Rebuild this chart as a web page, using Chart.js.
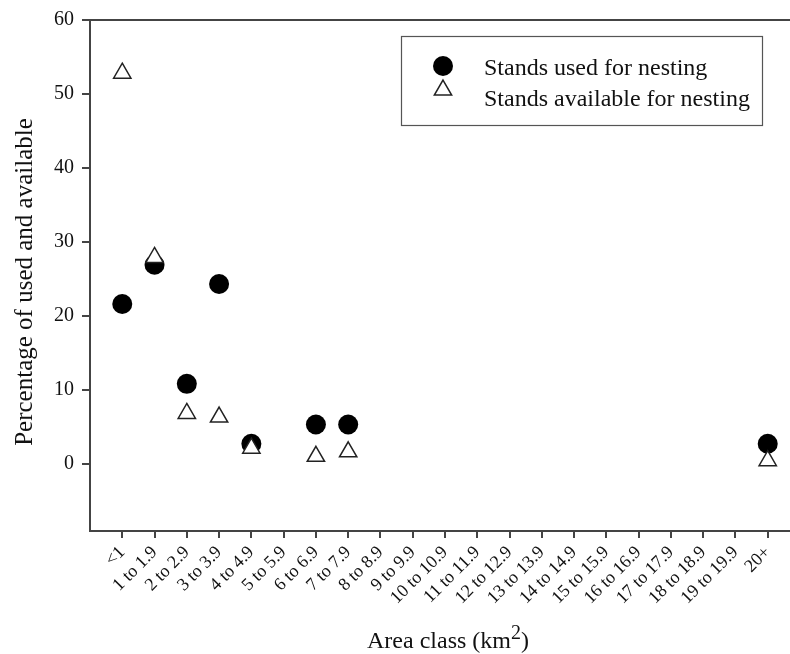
<!DOCTYPE html>
<html>
<head>
<meta charset="utf-8">
<script src="https://cdn.jsdelivr.net/npm/chart.js@4/dist/chart.umd.min.js"></script>
<style>
  html, body { margin: 0; padding: 0; background: #fff; overflow: hidden; }
  #wrap { position: relative; width: 815px; height: 654px; }
</style>
</head>
<body>
<div id="wrap"><canvas id="chart"></canvas></div>
<script>
  // area classes (km2)
  const clases = ['<1', '1 to 1.9', '2 to 2.9', '3 to 3.9', '4 to 4.9', '5 to 5.9', '6 to 6.9',
      '7 to 7.9', '8 to 8.9', '9 to 9.9', '10 to 10.9', '11 to 11.9', '12 to 12.9', '13 to 13.9',
      '14 to 14.9', '15 to 15.9', '16 to 16.9', '17 to 17.9', '18 to 18.9', '19 to 19.9', '20+'];

  // % of stands used for nesting
  const usados = [21.6, 26.9, 10.8, 24.3, 2.7, null, 5.3, 5.3, null, null, null,
      null, null, null, null, null, null, null, null, null, 2.7];

  // % of stands available for nesting
  const disponibles = [52.8, 27.9, 6.8, 6.3, 2.1, null, 1.0, 1.6, null, null, null,
      null, null, null, null, null, null, null, null, null, 0.4];

  const yTicks = [0, 10, 20, 30, 40, 50, 60];
  const yMin = -9.1;
  const yMax = 60;

  const fuente = "'Liberation Serif', 'Times New Roman', serif";
  const colorEje = '#444';

  function puntos(valores) {
      return clases.map((c, i) => ({ x: i, y: valores[i] })).filter(p => p.y !== null);
  }

  let datos = {
      datasets: [
          {
              label: 'Stands used for nesting',
              data: puntos(usados),
              pointStyle: 'circle',
              pointRadius: 10,
              backgroundColor: '#000',
              borderColor: '#000',
              borderWidth: 0,
              showLine: false,
              order: 1,
          },
          {
              label: 'Stands available for nesting',
              data: puntos(disponibles),
              pointStyle: 'triangle',
              pointRadius: 10,
              backgroundColor: '#fff',
              borderColor: '#222',
              borderWidth: 1.5,
              showLine: false,
              order: 0,
          }
      ]
  };

  // top/right edges of the frame
  const marco = {
      id: 'marco',
      afterDraw(chart) {
          const { ctx, chartArea: a } = chart;
          ctx.save();
          ctx.strokeStyle = colorEje;
          ctx.lineWidth = 2;
          ctx.beginPath();
          ctx.moveTo(a.left, a.top);
          ctx.lineTo(a.right, a.top);
          ctx.lineTo(a.right, a.bottom);
          ctx.stroke();
          ctx.restore();
      }
  };

  // boxed legend inside the plot
  const leyenda = {
      id: 'leyenda',
      afterDraw(chart) {
          const ctx = chart.ctx;
          ctx.save();
          ctx.strokeStyle = '#555';
          ctx.lineWidth = 1.2;
          ctx.strokeRect(401.5, 36.5, 361, 89);
          const filas = [66, 90];
          chart.data.datasets.forEach((ds, i) => {
              ctx.fillStyle = ds.backgroundColor;
              ctx.strokeStyle = ds.borderColor;
              ctx.lineWidth = ds.borderWidth;
              Chart.helpers.drawPoint(ctx, {
                  pointStyle: ds.pointStyle,
                  radius: ds.pointRadius,
                  rotation: 0,
                  borderWidth: ds.borderWidth
              }, 443, filas[i]);
          });
          ctx.fillStyle = '#111';
          ctx.font = '24px ' + fuente;
          ctx.textBaseline = 'alphabetic';
          ctx.textAlign = 'left';
          ctx.fillText(chart.data.datasets[0].label, 484, 75);
          ctx.fillText(chart.data.datasets[1].label, 484, 106);
          ctx.restore();
      }
  };

  // axis titles (x one carries a superscript)
  const titulos = {
      id: 'titulos',
      afterDraw(chart) {
          const { ctx, chartArea: a } = chart;
          ctx.save();
          ctx.fillStyle = '#111';

          // y title, rotated
          ctx.font = '25px ' + fuente;
          ctx.textAlign = 'center';
          ctx.textBaseline = 'middle';
          ctx.translate(25, 282);
          ctx.rotate(-Math.PI / 2);
          ctx.fillText('Percentage of used and available', 0, 0);
          ctx.setTransform(1, 0, 0, 1, 0, 0);

          const t1 = 'Area class (km', t2 = '2', t3 = ')';
          const f1 = '24px ' + fuente, f2 = '20px ' + fuente;
          ctx.textBaseline = 'alphabetic';
          ctx.textAlign = 'left';
          ctx.font = f1;
          const w1 = ctx.measureText(t1).width, w3 = ctx.measureText(t3).width;
          ctx.font = f2;
          const w2 = ctx.measureText(t2).width;
          let x = (a.left + a.right) / 2 + 3 - (w1 + w2 + w3) / 2;
          const y = 648;
          ctx.font = f1;
          ctx.fillText(t1, x, y);
          x += w1;
          ctx.font = f2;
          ctx.fillText(t2, x, y - 9);
          x += w2;
          ctx.font = f1;
          ctx.fillText(t3, x, y);
          ctx.restore();
      }
  };

  let opciones = {
      responsive: true,
      maintainAspectRatio: false,
      animation: false,
      events: [],
      layout: {
          padding: { left: 0, top: 17, right: 15, bottom: 0 }
      },
      scales: {
          x: {
              type: 'linear',
              min: -1,
              max: 21,
              afterBuildTicks: s => { s.ticks = clases.map((c, i) => ({ value: i })); },
              afterFit: s => { s.height = 123; },
              grid: {
                  drawOnChartArea: false,
                  drawTicks: true,
                  tickLength: 7,
                  color: colorEje,
                  lineWidth: 2,
              },
              border: { display: true, color: colorEje, width: 2 },
              ticks: {
                  autoSkip: false,
                  maxRotation: 45,
                  minRotation: 45,
                  padding: 4,
                  color: '#111',
                  font: { family: fuente, size: 18 },
                  callback: v => clases[v],
              },
          },
          y: {
              type: 'linear',
              min: yMin,
              max: yMax,
              afterBuildTicks: s => { s.ticks = yTicks.map(v => ({ value: v })); },
              afterFit: s => { s.width = 90; },
              grid: {
                  drawOnChartArea: false,
                  drawTicks: true,
                  tickLength: 8,
                  color: colorEje,
                  lineWidth: 2,
              },
              border: { display: true, color: colorEje, width: 2 },
              ticks: {
                  padding: 8,
                  color: '#111',
                  font: { family: fuente, size: 20 },
              },
          }
      },
      plugins: {
          legend: { display: false },
          title: { display: false },
          tooltip: { enabled: false },
      },
  };

  let ctx = document.getElementById('chart').getContext('2d');
  let miGrafica = new Chart(ctx, {
      type: 'scatter',
      data: datos,
      options: opciones,
      plugins: [marco, leyenda, titulos],
  });
</script>
</body>
</html>
